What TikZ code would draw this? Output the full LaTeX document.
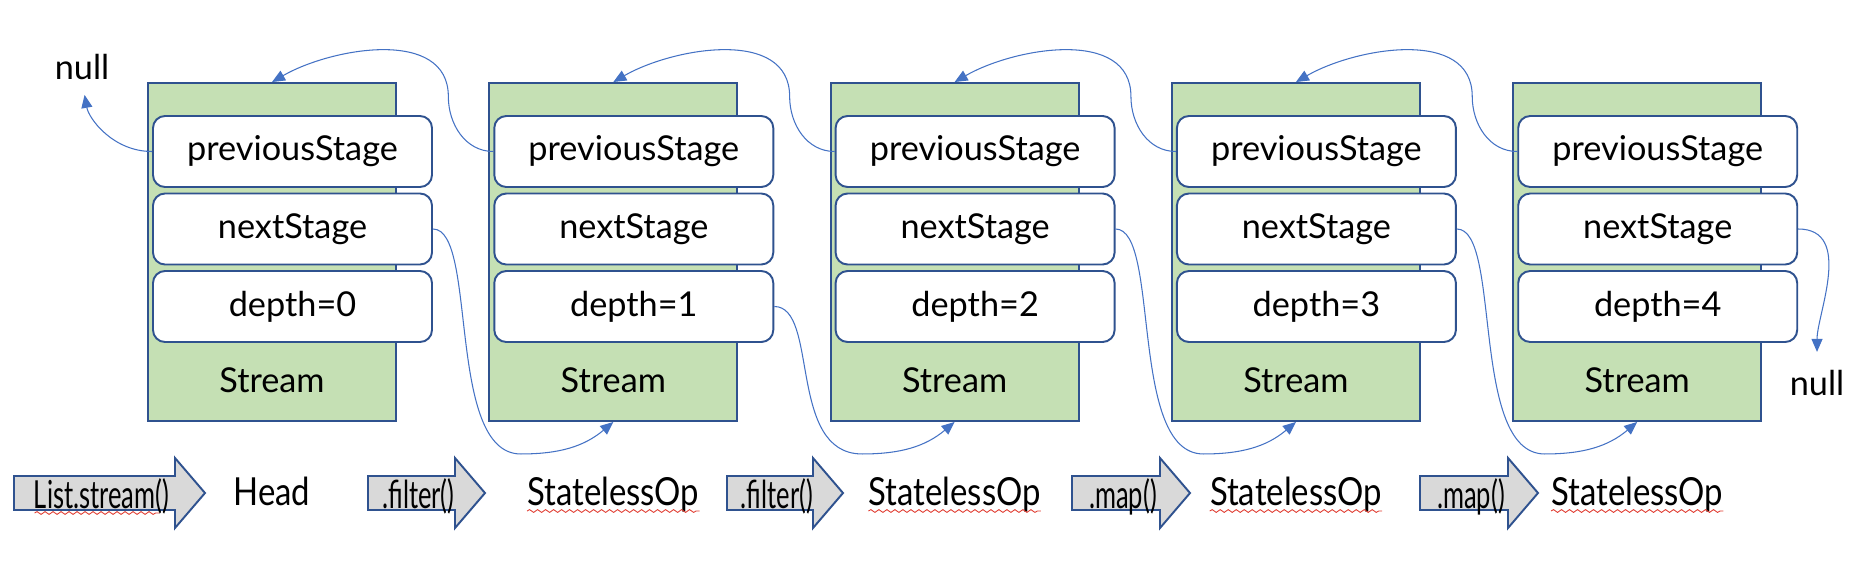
\documentclass[tikz,border=0pt]{standalone}
\usepackage{fontspec}
\setmainfont{Lato}
\usepackage{graphicx}
\usetikzlibrary{arrows.meta, calc, decorations.pathmorphing}
\definecolor{stagegreen}{HTML}{C5E0B4}
\definecolor{boxline}{HTML}{2F528F}
\definecolor{linkblue}{HTML}{4472C4}
\definecolor{opgrey}{HTML}{D9D9D9}
\definecolor{wavered}{HTML}{E03C31}

\begin{document}
\begin{tikzpicture}[>={Triangle[length=2.6mm, width=2.2mm]},
  every node/.style={font=\fontsize{19.5}{22}\selectfont},
  stagebox/.style={draw=boxline, fill=stagegreen, line width=1.1pt, minimum width=4.96cm, minimum height=6.76cm, inner sep=0pt},
  field/.style={draw=boxline, fill=white, line width=1.1pt, rounded corners=0.24cm, minimum width=5.58cm, minimum height=1.42cm, inner sep=0pt},
  link/.style={->, draw=linkblue, line width=0.6pt},
  oparrow/.style={draw=boxline, fill=opgrey, line width=1.1pt},
  oplabel/.style={anchor=base, inner sep=0pt, font=\fontsize{22}{26}\selectfont},
  squiggle/.style={draw=wavered, line width=0.5pt, decorate, decoration={snake, amplitude=0.8pt, segment length=1.6mm}}]
  \useasboundingbox (0,0) rectangle (37.24,-11.6);

  % stream stages
  \foreach \i [evaluate=\i as \gx using 2.96+6.826*(\i-1), evaluate=\i as \d using int(\i-1)] in {1,...,5} {
    \node[stagebox] (stage\i) at (\gx+2.48,-5.04) {};
    \node (name\i) at (\gx+2.48,-7.60) {Stream};
    \node[field] (prev\i) at (\gx+2.89,-3.03) {previousStage};
    \node[field] (next\i) at (\gx+2.89,-4.58) {nextStage};
    \node[field] (depth\i) at (\gx+2.89,-6.13) {depth=\d};
  }

  \node[inner sep=0pt] (nullL) at (1.64,-1.34) {null};
  \node[inner sep=0pt] (nullR) at (36.34,-7.66) {null};

  % previousStage links
  \draw[link, shorten >=0.3cm] (prev1.west) to[out=180,in=-80] (nullL.south);
  \foreach \i [evaluate=\i as \j using int(\i+1)] in {1,...,4}
    \draw[link] (prev\j.west) to[out=180,in=-90] ++(-0.9,1.1) to[out=90,in=30] (stage\i.north);

  % nextStage links
  \foreach \src/\k in {next1/2, depth2/3, next3/4, next4/5}
    \draw[link] (\src.east) .. controls +(0.9,0) and +(-1.5,0) .. ($(stage\k.south)+(-1.85,-0.64)$) to[out=0,in=-140] (stage\k.south);
  \draw[link, shorten >=0.36cm] (next5.east) to[out=0,in=90] (nullR.north);

  % operations
  \foreach \x/\len/\lab/\nm in {0.28/3.82/{List.stream()}/opA, 7.36/2.34/{.filter()}/opB, 14.54/2.32/{.filter()}/opC, 21.44/2.36/{.map()}/opD, 28.40/2.36/{.map()}/opE} {
    \draw[oparrow] (\x,-9.52) -- ++(\len-0.6,0) -- ++(0,0.36) -- ++(0.6,-0.70) -- ++(-0.6,-0.70) -- ++(0,0.36) -- (\x,-10.20) -- cycle;
    \node[oplabel] (\nm) at (\x+\len/2-0.16,-10.16) {\scalebox{0.66}[1]{\lab}};
  }
  \draw[squiggle] ($(opA.base west)+(0.02,-0.1)$) -- ($(opA.base east)+(-0.2,-0.1)$);

  \node[oplabel] (kind1) at (5.44,-10.10) {\scalebox{0.85}[1]{Head}};
  \foreach \i [evaluate=\i as \gx using 2.96+6.826*(\i-1)] in {2,...,5} {
    \node[oplabel] (kind\i) at (\gx+2.48,-10.10) {\scalebox{0.85}[1]{StatelessOp}};
    \draw[squiggle] ($(kind\i.base west)+(0,-0.12)$) -- ($(kind\i.base east)+(0,-0.12)$);
  }
\end{tikzpicture}
\end{document}
